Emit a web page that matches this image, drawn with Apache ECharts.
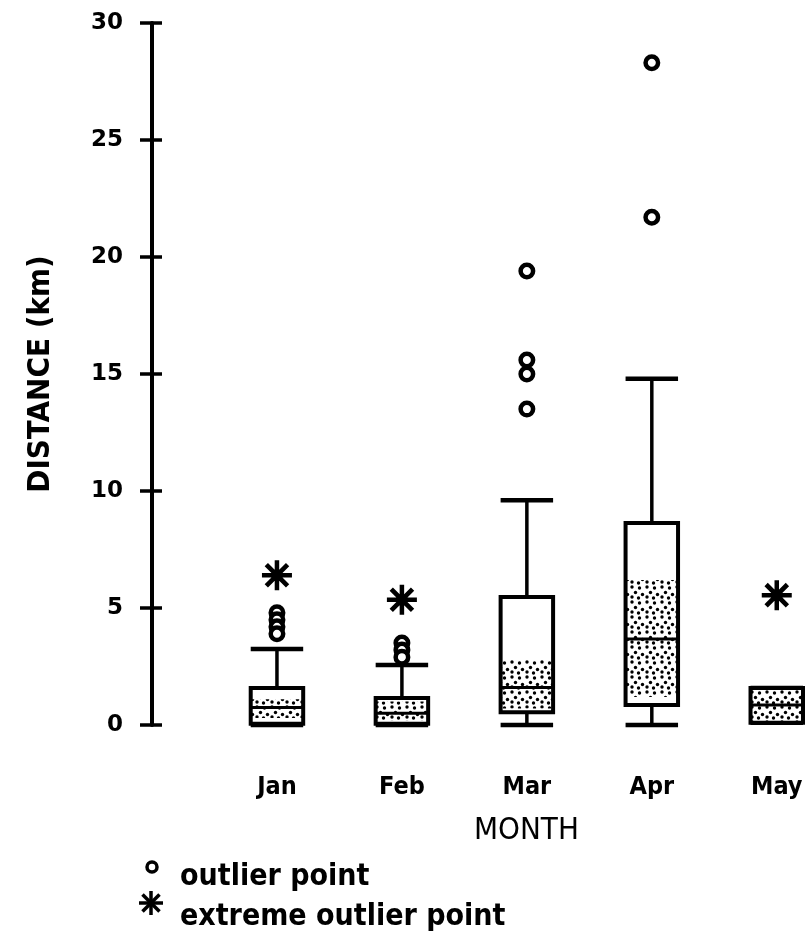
<!DOCTYPE html>
<html><head><meta charset="utf-8">
<script src="https://cdn.jsdelivr.net/npm/echarts@6/dist/echarts.min.js"></script>
<style>html,body{margin:0;padding:0;background:#fff}#c{width:811px;height:948px}</style>
</head><body><div id="c"></div>
<script>
// ---- data ----
const months = ['Jan', 'Feb', 'Mar', 'Apr', 'May'];
const whiskerLow  = [0,    0,    0,    0,    0.1];
const q1          = [0.05, 0.05, 0.55, 0.85, 0.1];
const ciLow       = [0.3,  0.2,  0.7,  1.2,  0.15];
const median      = [0.75, 0.5,  1.6,  3.67, 0.85];
const ciHigh      = [1.1,  1.0,  2.78, 6.2,  1.5];
const q3          = [1.58, 1.15, 5.47, 8.63, 1.58];
const whiskerHigh = [3.25, 2.56, 9.6,  14.8, 1.58];
const outlierMonth = ['Jan','Jan','Jan','Jan','Feb','Feb','Feb','Mar','Mar','Mar','Mar','Apr','Apr'];
const outlierValue = [4.8, 4.5, 4.2, 3.9, 3.5, 3.2, 2.9, 19.4, 15.6, 15.0, 13.5, 28.3, 21.7];
const extremeMonth = ['Jan','Feb','May'];
const extremeValue = [6.4, 5.35, 5.55];
const yMin = 0, yMax = 30, yStep = 5;
const xLabel = 'MONTH';
const yLabel = 'DISTANCE (km)';
const legendLabels = ['outlier point', 'extreme outlier point'];

// ---- helpers ----
const pos = m => months.indexOf(m) + 1;
const boxData = months.map((m, i) => [i + 1, whiskerLow[i], q1[i], ciLow[i], median[i], ciHigh[i], q3[i], whiskerHigh[i]]);
const outlierData = outlierMonth.map((m, i) => [pos(m), outlierValue[i]]);
const extremeData = extremeMonth.map((m, i) => [pos(m), extremeValue[i]]);

const pat = document.createElement('canvas');
pat.width = 15; pat.height = 15;
(function () {
  const c = pat.getContext('2d');
  c.fillStyle = '#fff'; c.fillRect(0, 0, 15, 15);
  c.fillStyle = '#000';
  [[2,2],[9.5,3],[5.5,7.5],[12.5,9.5],[2,12],[8.5,13]].forEach(p => { c.beginPath(); c.arc(p[0], p[1], 1.7, 0, Math.PI * 2); c.fill(); });
})();

const AST = 'path://M-1.5,-10 L1.5,-10 L1.5,10 L-1.5,10 Z M-10,-1.5 L10,-1.5 L10,1.5 L-10,1.5 Z M-6,-8.2 L8.2,6 L6,8.2 L-8.2,-6 Z M6,-8.2 L8.2,-6 L-6,8.2 L-8.2,6 Z';
const FONT_N = "'Liberation Sans Narrow','DejaVu Sans Condensed','Roboto Condensed','Liberation Sans',sans-serif";

function renderBox(params, api) {
  const x = api.value(0);
  const c = v => api.coord([x, v]);
  const cx = c(0)[0];
  const hw = api.size([0.42, 0])[0] / 2;
  const yLo = c(api.value(1))[1], yQ1 = c(api.value(2))[1], yCL = c(api.value(3))[1],
        yMed = c(api.value(4))[1], yCH = c(api.value(5))[1], yQ3 = c(api.value(6))[1], yHi = c(api.value(7))[1];
  const line = (x1, y1, x2, y2, w) => ({ type: 'line', shape: { x1, y1, x2, y2 }, style: { stroke: '#000', lineWidth: w } });
  const kids = [
    line(cx, yQ3, cx, yHi, 3.5),
    line(cx, yLo, cx, yQ1, 3.5),
    line(cx - hw, yHi, cx + hw, yHi, 4.5),
    line(cx - hw, yLo, cx + hw, yLo, 4.5),
    { type: 'rect', shape: { x: cx - hw, y: yQ3, width: hw * 2, height: yQ1 - yQ3 }, style: { fill: '#fff', stroke: null } },
    { type: 'rect', shape: { x: cx - hw, y: yCH, width: hw * 2, height: yCL - yCH }, style: { fill: { image: pat, repeat: 'repeat' }, stroke: null } },
    { type: 'rect', shape: { x: cx - hw, y: yQ3, width: hw * 2, height: yQ1 - yQ3 }, style: { fill: null, stroke: '#000', lineWidth: 4 } },
    line(cx - hw, yMed, cx + hw, yMed, 3)
  ];
  return { type: 'group', children: kids };
}

function asteriskGraphic(x, y, len, w) {
  return {
    type: 'group', x: x, y: y,
    children: [0, 1, 2, 3].map(k => ({
      type: 'rect', rotation: k * Math.PI / 4,
      shape: { x: -len / 2, y: -w / 2, width: len, height: w },
      style: { fill: '#000' }
    }))
  };
}

const chart = echarts.init(document.getElementById('c'), null, { renderer: 'canvas' });
chart.setOption({
  backgroundColor: '#fff',
  animation: false,
  grid: { left: 152, right: 3, top: 23, bottom: 223, containLabel: false },
  xAxis: {
    type: 'value', min: 0, max: 5.25, interval: 1,
    axisLine: { show: false }, axisTick: { show: false }, splitLine: { show: false },
    axisLabel: {
      formatter: v => (Number.isInteger(v) && months[v - 1]) ? months[v - 1] : '',
      color: '#000', fontFamily: FONT_N, fontWeight: 'bold', fontSize: 25, margin: 50,
      showMaxLabel: true
    }
  },
  yAxis: [{
    type: 'value', min: yMin, max: yMax, interval: yStep, position: 'left',
    axisLine: { show: true, lineStyle: { color: '#000', width: 4 } },
    axisTick: { show: true, length: 12, lineStyle: { color: '#000', width: 3.5 } },
    splitLine: { show: false },
    axisLabel: { color: '#000', fontFamily: "'DejaVu Sans',sans-serif", fontWeight: 'bold', fontSize: 23, margin: 29 },
    name: yLabel, nameLocation: 'middle', nameRotate: 90, nameGap: 96,
    nameTextStyle: { color: '#000', fontFamily: FONT_N, fontWeight: 'bold', fontSize: 31 }
  }, {
    type: 'value', min: yMin, max: yMax, interval: yStep, position: 'left',
    axisLine: { show: false },
    axisTick: { show: true, inside: true, length: 10, lineStyle: { color: '#000', width: 3.5 } },
    axisLabel: { show: false }, splitLine: { show: false }
  }],
  series: [
    { type: 'custom', renderItem: renderBox, data: boxData, encode: { x: 0, y: [1, 7] }, z: 2 },
    { type: 'scatter', data: outlierData, symbol: 'circle', symbolSize: 12.5,
      itemStyle: { color: '#fff', borderColor: '#000', borderWidth: 4.5, opacity: 1 }, z: 3 },
    { type: 'scatter', data: extremeData, symbol: AST, symbolSize: 30,
      itemStyle: { color: '#000', opacity: 1 }, z: 3 }
  ],
  graphic: [
    { type: 'text', x: 474, y: 815, style: { text: xLabel, font: "31px " + FONT_N, fill: '#000' } },
    { type: 'circle', shape: { cx: 152, cy: 867, r: 5 }, style: { fill: '#fff', stroke: '#000', lineWidth: 3.5 } },
    { type: 'text', x: 180, y: 862, style: { text: legendLabels[0], font: "bold 30px " + FONT_N, fill: '#000' } },
    asteriskGraphic(151, 903, 24, 3.5),
    { type: 'text', x: 180, y: 902, style: { text: legendLabels[1], font: "bold 30px " + FONT_N, fill: '#000' } }
  ]
});
</script></body></html>
